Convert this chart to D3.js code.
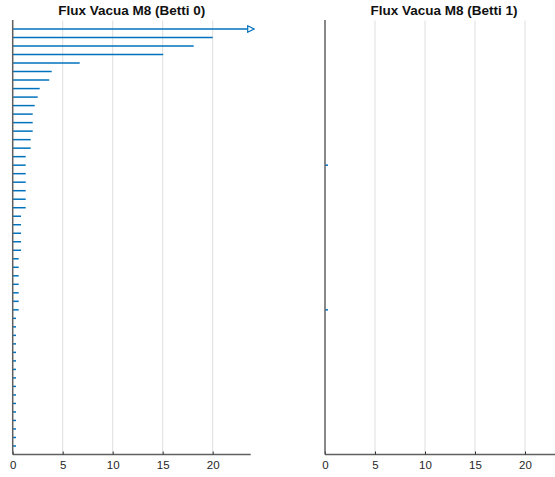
<!DOCTYPE html>
<html>
<head>
<meta charset="utf-8">
<script src="https://cdn.jsdelivr.net/npm/d3@7"></script>
<style>
  body { margin: 0; background: #fff; overflow: hidden; }
  text { font-family: "Liberation Sans", Arial, sans-serif; }
</style>
</head>
<body>
<div id="chart"></div>
<script>
// barcode data: birth / death of each bar, Infinity = never dies
const titles = ["Flux Vacua M8 (Betti 0)", "Flux Vacua M8 (Betti 1)"];
const xTicks = [0, 5, 10, 15, 20];
const xMax = 23.8;

const betti0Births = new Array(50).fill(0);
const betti0Deaths = [
  Infinity, 20.0, 18.1, 15.05, 6.7, 3.9, 3.65, 2.7, 2.5, 2.2,
  2.0, 2.0, 2.0, 1.8, 1.8, 1.3, 1.3, 1.3, 1.3, 1.3,
  1.3, 1.3, 0.83, 0.83, 0.83, 0.83, 0.83, 0.6, 0.6, 0.6,
  0.6, 0.6, 0.6, 0.6, 0.33, 0.33, 0.33, 0.33, 0.33, 0.33,
  0.33, 0.33, 0.33, 0.33, 0.33, 0.33, 0.33, 0.33, 0.33, 0.33
];

const betti1Births = [0, 0];
const betti1Deaths = [0.3, 0.3];

const barColor = "#0072BD";
const axisColor = "#606060";
const gridColor = "#dedede";

const svg = d3.select('#chart')
  .append('svg')
  .attr('width', 555)
  .attr('height', 477);

// arrow marker for infinite bars
svg.append('defs').append('marker')
  .attr('id', 'arrow')
  .attr('viewBox', '0 0 10 10')
  .attr('refX', 1)
  .attr('refY', 5)
  .attr('markerWidth', 9)
  .attr('markerHeight', 8)
  .attr('markerUnits', 'userSpaceOnUse')
  .attr('orient', 'auto')
  .append('path')
  .attr('d', 'M1,1 L9,5 L1,9 Z')
  .attr('fill', '#fff')
  .attr('stroke', barColor)
  .attr('stroke-width', 1.5);

function drawPanel(left, title, births, deaths) {
  const width = 238;
  const top = 20.5, bottom = 454.5;
  const g = svg.append('g');

  const x = d3.scaleLinear().domain([0, xMax]).range([left, left + width]);
  const y = d3.scaleLinear().domain([0, births.length + 1]).range([top, bottom]);

  // grid
  g.selectAll('line.grid')
    .data(xTicks.filter(t => t > 0))
    .enter().append('line')
    .attr('class', 'grid')
    .attr('x1', d => x(d)).attr('x2', d => x(d))
    .attr('y1', top).attr('y2', bottom)
    .attr('stroke', gridColor)
    .attr('stroke-width', 1);

  // bars
  const bars = births.map((b, i) => ({ b: b, d: deaths[i], i: i + 1 }));
  g.selectAll('line.bar')
    .data(bars)
    .enter().append('line')
    .attr('class', 'bar')
    .attr('x1', d => x(d.b))
    .attr('x2', d => isFinite(d.d) ? x(d.d) : x(xMax) - 3)
    .attr('y1', d => y(d.i)).attr('y2', d => y(d.i))
    .attr('stroke', barColor)
    .attr('stroke-width', 1.5)
    .attr('marker-end', d => isFinite(d.d) ? null : 'url(#arrow)');

  // x axis
  const xAxis = d3.axisBottom(x).tickValues(xTicks).tickSize(-3).tickPadding(6);
  const ax = g.append('g')
    .attr('transform', `translate(0,${bottom})`)
    .call(xAxis);
  ax.select('.domain')
    .attr('d', `M${left},0H${left + width}`)
    .attr('stroke', axisColor)
    .attr('stroke-width', 1.5);
  ax.selectAll('.tick line').attr('stroke', '#333').attr('stroke-width', 1);
  ax.selectAll('.tick text')
    .attr('fill', '#262626')
    .style('font-size', '11.5px')
    .style('font-family', '"Liberation Sans", Arial, sans-serif');

  // y axis line
  g.append('line')
    .attr('x1', left).attr('x2', left)
    .attr('y1', top - 0.5).attr('y2', bottom)
    .attr('stroke', axisColor)
    .attr('stroke-width', 1.5);

  g.append('text')
    .attr('x', left + width / 2)
    .attr('y', 14.5)
    .attr('text-anchor', 'middle')
    .style('font-size', '13.5px')
    .style('font-weight', 'bold')
    .attr('fill', '#111')
    .text(title);
}

drawPanel(12.7, titles[0], betti0Births, betti0Deaths);
drawPanel(325, titles[1], betti1Births, betti1Deaths);
</script>
</body>
</html>
